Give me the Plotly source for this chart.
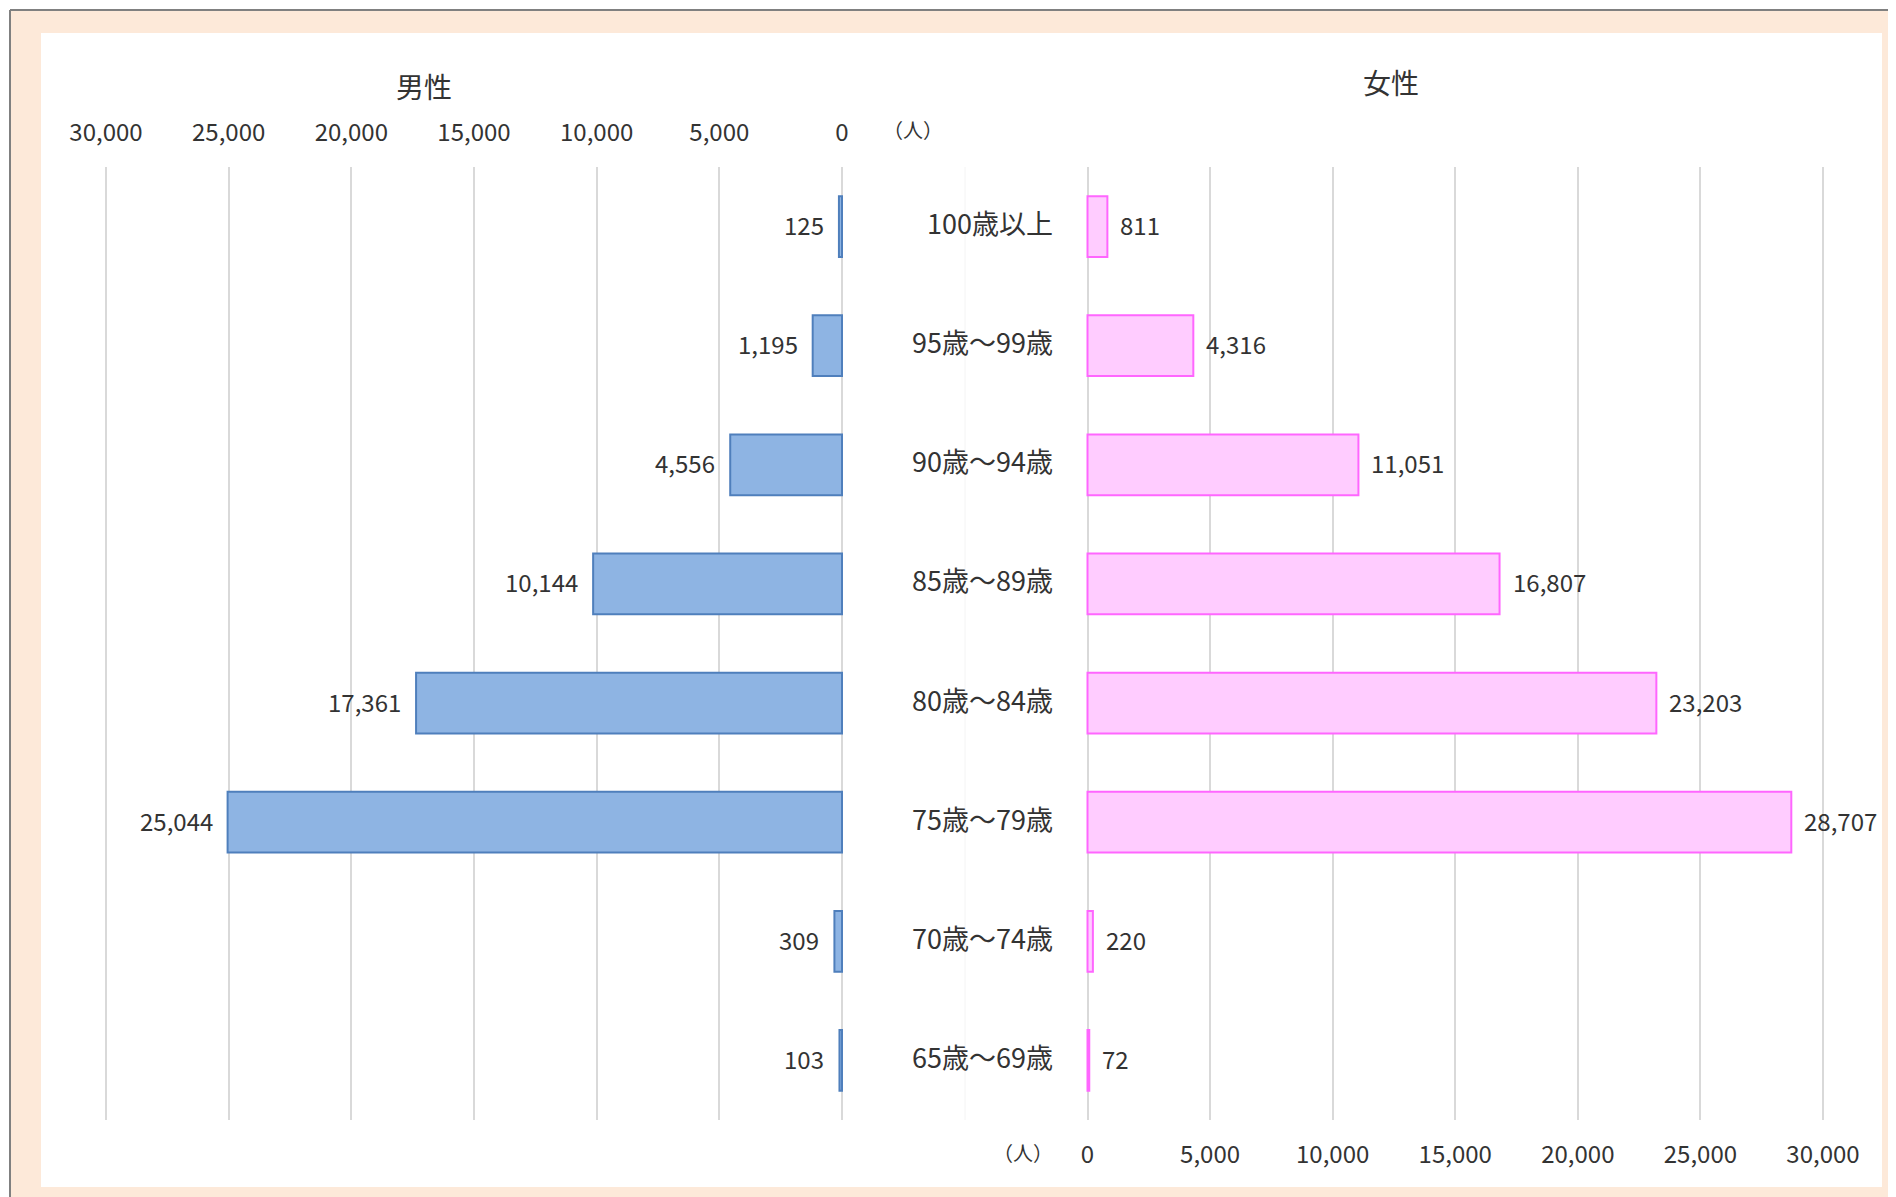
import plotly.graph_objects as go

# ── data ──────────────────────────────────────────────────────────────────────
AGE_GROUPS = ["65歳～69歳", "70歳～74歳", "75歳～79歳", "80歳～84歳",
              "85歳～89歳", "90歳～94歳", "95歳～99歳", "100歳以上"]
MALE = [103, 309, 25044, 17361, 10144, 4556, 1195, 125]
FEMALE = [72, 220, 28707, 23203, 16807, 11051, 4316, 811]
AXIS_MAX = 30000

# ── style ─────────────────────────────────────────────────────────────────────
OX, OY = 8, 8            # page body margin
W, H = 1888, 1189
FONT = "'Noto Sans CJK JP', 'Noto Sans', sans-serif"
TEXT = "#333333"
GRID = "#D9D9D9"
PEACH = "#FDE9D9"
MALE_FILL, MALE_LINE = "#8EB4E3", "#4F7FBC"
FEMALE_FILL, FEMALE_LINE = "#FFCCFF", "#FF66FF"


def px(x):  # screen pixel -> paper x
    return (x - OX) / W


def py(y):  # screen pixel -> paper y
    return 1 - (y - OY) / H


GRID_TOP, GRID_BOT = 167, 1120
PAD = 150  # a little slack so the edge grid lines get drawn
PX_PER_UNIT = 735.5 / AXIS_MAX
PAD_PX = PAD * PX_PER_UNIT


def label(x, y, text, size, xref="paper", yref="paper", **kw):
    d = dict(x=x, y=y, xref=xref, yref=yref, text=text, showarrow=False,
             xanchor="center", yanchor="middle", font=dict(size=size, color=TEXT))
    d.update(kw)
    return d


fig = go.Figure()
fig.add_trace(go.Bar(
    y=AGE_GROUPS, x=MALE, orientation="h", xaxis="x", yaxis="y",
    width=0.51,
    marker=dict(color=MALE_FILL, line=dict(color=MALE_LINE, width=2)),
    hoverinfo="skip",
))
fig.add_trace(go.Bar(
    y=AGE_GROUPS, x=FEMALE, orientation="h", xaxis="x2", yaxis="y",
    width=0.51,
    marker=dict(color=FEMALE_FILL, line=dict(color=FEMALE_LINE, width=2)),
    hoverinfo="skip",
))

annotations = []
for cat, m, f in zip(AGE_GROUPS, MALE, FEMALE):
    annotations.append(label(m, cat, f"{m:,}", 24, xref="x", yref="y",
                             xanchor="right", xshift=-13, yshift=2))
    annotations.append(label(f, cat, f"{f:,}", 24, xref="x2", yref="y",
                             xanchor="left", xshift=11, yshift=2))
    annotations.append(label(px(1055), cat, cat, 27, yref="y",
                             xanchor="right", yshift=4))

annotations += [
    label(px(351 * 1.2092), py(71 * 1.2092), "男性", 28),
    label(px(1150 * 1.2092), py(68 * 1.2092), "女性", 28),
    label(px(755 * 1.2092), py(107 * 1.2092), "（人）", 20),
    label(px(846 * 1.2092), py(953 * 1.2092), "（人）", 20),
]

shapes = [
    dict(type="rect", xref="paper", yref="paper", x0=px(10), x1=1, y0=0, y1=py(10),
         fillcolor=PEACH, line=dict(width=0), layer="below"),
    dict(type="line", xref="paper", yref="paper", x0=px(10), x1=1, y0=py(10), y1=py(10),
         line=dict(color="#808080", width=2), layer="below"),
    dict(type="line", xref="paper", yref="paper", x0=px(10), x1=px(10), y0=0, y1=py(10),
         line=dict(color="#808080", width=2), layer="below"),
    dict(type="rect", xref="paper", yref="paper", x0=px(41), x1=px(1882), y0=py(1187), y1=py(33),
         fillcolor="white", line=dict(width=0), layer="below"),
    dict(type="line", xref="paper", yref="paper", x0=px(965), x1=px(965),
         y0=py(GRID_BOT), y1=py(GRID_TOP), line=dict(color="#F4F4F4", width=1), layer="below"),
]

axis_common = dict(
    dtick=5000, tickformat=",d", showgrid=True, gridcolor=GRID, gridwidth=2,
    zeroline=False, showline=False, ticks="", automargin=False,
    tickfont=dict(size=24, color=TEXT), fixedrange=True,
)

fig.update_layout(
    width=W, height=H,
    margin=dict(l=0, r=0, t=0, b=0, autoexpand=False),
    paper_bgcolor="white", plot_bgcolor="rgba(0,0,0,0)",
    font=dict(family=FONT, color=TEXT),
    showlegend=False,
    xaxis=dict(**axis_common, domain=[px(106 - PAD_PX), px(842 + PAD_PX)],
               range=[AXIS_MAX + PAD, -PAD], side="top", anchor="y",
               ticklabelstandoff=20),
    xaxis2=dict(**axis_common, domain=[px(1087.5 - PAD_PX), px(1823 + PAD_PX)],
                range=[-PAD, AXIS_MAX + PAD], side="bottom", anchor="y",
                ticklabelstandoff=18),
    yaxis=dict(domain=[py(GRID_BOT), py(GRID_TOP)], range=[-0.5, 7.5],
               categoryorder="array", categoryarray=AGE_GROUPS,
               visible=False, fixedrange=True, automargin=False),
    annotations=annotations,
    shapes=shapes,
)

fig.write_html("out.html")
